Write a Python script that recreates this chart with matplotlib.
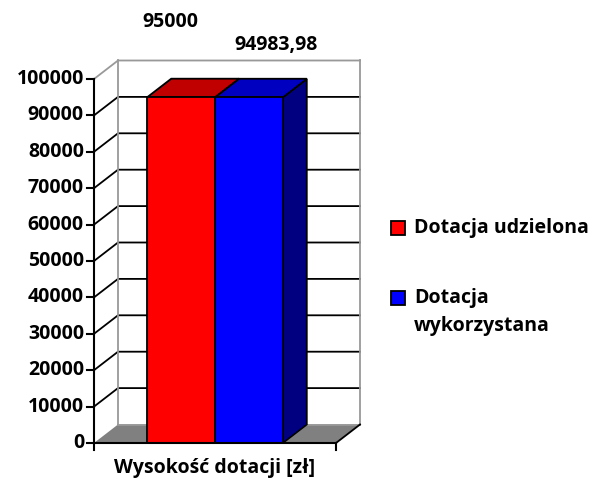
import matplotlib
matplotlib.use("Agg")
import matplotlib.pyplot as plt
from matplotlib.patches import Polygon, Rectangle
from matplotlib.transforms import Affine2D, IdentityTransform

# data
series = ["Dotacja udzielona", "Dotacja wykorzystana"]
values = [95000, 94983.98]
value_labels = ["95000", "94983,98"]
y_ticks = list(range(0, 100001, 10000))
x_label = "Wysokość dotacji [zł]"

front_colors = ["#ff0000", "#0000ff"]
top_colors = ["#c00000", "#0000c0"]
side_colors = ["#800000", "#000080"]

plt.rcParams['font.family'] = ['Open Sans', 'DejaVu Sans']
plt.rcParams['font.weight'] = 'bold'
FS = 14

fig = plt.figure(figsize=(5.93, 4.82), dpi=100)
# front plane of the 3D box: x 94..336 px, y 443..79 px (from top)
ax = fig.add_axes([94 / 593, 39 / 482, 242 / 593, 364 / 482])
ax.set_xlim(0, 1)
ax.set_ylim(0, 100000)
ax.axis('off')

# depth offset of the 3D effect (pixels)
DX, DY = 24, 18.5
back = ax.transData + Affine2D().translate(DX, DY)
pix = IdentityTransform()


def depth_poly(pts_front, pts_back, **kw):
    # polygon made of front points and back points (back ones shifted by depth)
    disp = [ax.transData.transform(p) for p in pts_front]
    disp += [back.transform(p) for p in pts_back]
    return ax.add_patch(Polygon(disp, closed=True, transform=pix, clip_on=False, **kw))


def pline(p_list, **kw):
    xs = [p[0] for p in p_list]
    ys = [p[1] for p in p_list]
    ax.add_line(plt.Line2D(xs, ys, transform=pix, clip_on=False, **kw))


# walls
depth_poly([(0, 0), (0, 100000)], [(0, 100000), (1, 100000), (1, 0), (0, 0)],
           facecolor='white', edgecolor='none', zorder=1)

# gridlines: diagonal on the side wall, horizontal on the back wall
for v in y_ticks[1:]:
    col = '#999999' if v == y_ticks[-1] else 'black'
    pline([ax.transData.transform((0, v)), back.transform((0, v)), back.transform((1, v))],
          color=col, lw=1.3, zorder=1)

# back wall outline
for xx in (0, 1):
    pline([back.transform((xx, 0)), back.transform((xx, 100000))], color='#999999', lw=1.3, zorder=1)

# floor
depth_poly([(0, 0), (1, 0)], [(1, 0), (0, 0)], facecolor='#808080', edgecolor='none', zorder=1)
pline([back.transform((0, 0)), back.transform((1, 0))], color='#999999', lw=1.3, zorder=1)
pline([ax.transData.transform((1, 0)), back.transform((1, 0))], color='black', lw=1.3, zorder=1)

# bars
width = 0.28
centers = [0.5 - width / 2, 0.5 + width / 2]
for c, v, fc, tc, sc in zip(centers, values, front_colors, top_colors, side_colors):
    x0, x1 = c - width / 2, c + width / 2
    depth_poly([(x1, 0), (x1, v)], [(x1, v), (x1, 0)], facecolor=sc, edgecolor='black', lw=1.3, zorder=2)
    depth_poly([(x0, v), (x1, v)], [(x1, v), (x0, v)], facecolor=tc, edgecolor='black', lw=1.3, zorder=2)
    ax.add_patch(Rectangle((x0, 0), width, v, facecolor=fc, edgecolor='black', lw=1.3,
                           clip_on=False, zorder=2))

# data labels
label_offsets = [(-11, 75), (27, 52)]
for c, v, lab, off in zip(centers, values, value_labels, label_offsets):
    ax.annotate(lab, xy=(c, v), xytext=off, textcoords='offset pixels',
                ha='center', va='center', fontsize=FS, fontweight='bold', annotation_clip=False)

# front axes
ax.plot([0, 0], [0, 100000], color='black', lw=1.5, clip_on=False, zorder=3)
ax.plot([0, 1], [0, 0], color='black', lw=1.5, clip_on=False, zorder=3)
for v in y_ticks:
    p = ax.transData.transform((0, v))
    pline([p, (p[0] - 7, p[1])], color='black', lw=1.5, zorder=3)
    ax.annotate(str(v), xy=(0, v), xytext=(-10, 0), textcoords='offset pixels',
                ha='right', va='center', fontsize=FS, fontweight='bold', annotation_clip=False)
for xx in (0, 1):
    p = ax.transData.transform((xx, 0))
    pline([p, (p[0], p[1] - 7)], color='black', lw=1.5, zorder=3)

fig.text(215 / 593, 1 - 468 / 482, x_label, ha='center', va='center',
         fontsize=FS, fontweight='bold')

# legend
legend_rows = [[series[0]], ["Dotacja", "wykorzystana"]]
legend_y = [228, 298]
for rows, yy, fc in zip(legend_rows, legend_y, front_colors):
    fig.add_artist(Rectangle((391 / 593, 1 - (yy + 7) / 482), 14 / 593, 14 / 482,
                             transform=fig.transFigure, facecolor=fc, edgecolor='black', lw=1.3))
    for i, line in enumerate(rows):
        fig.text(414 / 593, 1 - (yy + 28 * i) / 482, line, ha='left', va='center',
                 fontsize=FS, fontweight='bold')

fig.savefig("out.png", dpi=100)
